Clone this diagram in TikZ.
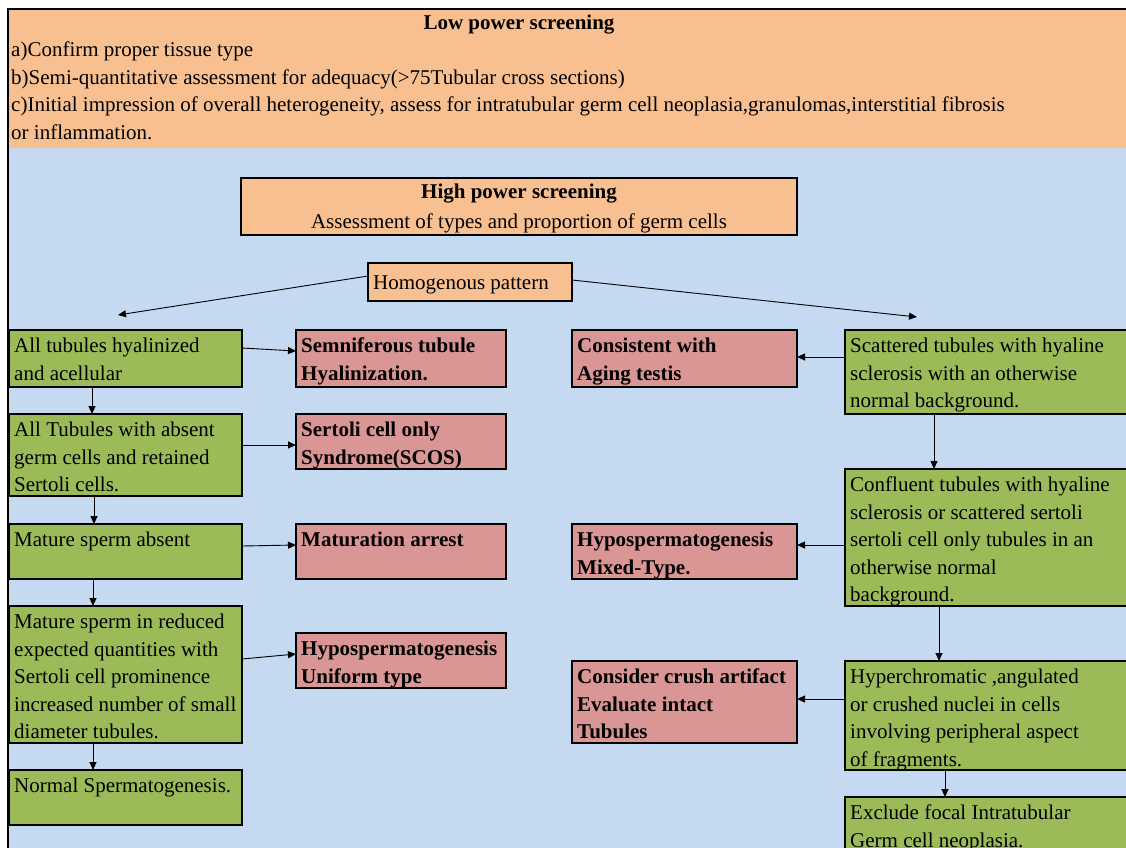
\documentclass[tikz,border=0pt]{standalone}
\usepackage{fontspec}
\setmainfont{Liberation Serif}
\usetikzlibrary{arrows.meta}
\definecolor{orng}{HTML}{F8C090}
\definecolor{blu}{HTML}{C5D9F1}
\definecolor{grn}{HTML}{9BBB59}
\definecolor{pnk}{HTML}{DA9694}
\newcommand\topstrut{\rule{0pt}{15pt}}
% #1 box style, #2 text style, #3 name, #4 x, #5 y, #6 w, #7 h, #8 text
\newcommand\mkbox[8]{%
  \node[#1, minimum width=#6pt, minimum height=#7pt] (#3) at (#4,#5) {};
  \node[#2] (#3t) at ([xshift=5pt,yshift=-7.5pt]#3.north west) {\topstrut #8};}
\begin{document}
\begin{tikzpicture}[x=1pt,y=-1pt,
  bx/.style={draw=black, line width=1.8pt, anchor=north west, inner sep=0pt, outer sep=0pt},
  gbox/.style={bx, fill=grn},
  pbox/.style={bx, fill=pnk},
  obox/.style={bx, fill=orng},
  tx/.style={anchor=north west, align=left, inner sep=0pt, font=\fontsize{21}{27.5}\selectfont},
  txb/.style={tx, font=\fontsize{21}{27.5}\selectfont\bfseries},
  single/.style={inner sep=0pt, font=\fontsize{21}{27.5}\selectfont},
  arr/.style={draw=black, line width=0.9pt, -{Triangle[length=8pt,width=7pt]}}]
\useasboundingbox (0,0) rectangle (1126,847);
\clip (0,0) rectangle (1126,847);
% background bands
\fill[orng] (8,9) rectangle (1130,148);
\fill[blu] (8,148) rectangle (1130,850);
\draw[line width=1.5pt] (8,850) -- (8,9) -- (1130,9);
% header
\node[single, anchor=base, font=\fontsize{21}{27.5}\selectfont\bfseries] (lowtitle) at (519,29.3) {Low power screening};
\node[tx] (lowlines) at (11,41.5) {\topstrut a)Confirm proper tissue type\\
b)Semi-quantitative assessment for adequacy(>75Tubular cross sections)\\
c)Initial impression of overall heterogeneity, assess for intratubular germ cell neoplasia,granulomas,interstitial fibrosis\\
or inflammation.};
% high power
\node[obox, minimum width=556pt, minimum height=57pt] (hp) at (241,178) {};
\node[single, anchor=base, font=\fontsize{21}{27.5}\selectfont\bfseries] (hpt1) at ([yshift=-20pt]hp.north) {High power screening};
\node[single, anchor=base] (hpt2) at ([yshift=-50pt]hp.north) {Assessment of types and proportion of germ cells};
% homogenous
\node[obox, minimum width=204pt, minimum height=38pt] (hm) at (368,263) {};
\node[single, anchor=base west] (hmt) at ([xshift=5pt,yshift=-26pt]hm.north west) {Homogenous pattern};
\coordinate (lend) at (118,315);
\coordinate (rend) at (917,317);
% left green column
\mkbox{gbox}{tx}{g1}{9}{330}{233}{57}{All tubules hyalinized\\and acellular}
\mkbox{gbox}{tx}{g2}{9}{414}{233}{82}{All Tubules with absent\\germ cells and retained\\Sertoli cells.}
\mkbox{gbox}{tx}{g3}{9}{524}{233}{55}{Mature sperm absent}
\mkbox{gbox}{tx}{g4}{9}{606}{233}{137}{Mature sperm in reduced\\expected quantities with\\Sertoli cell prominence\\increased number of small\\diameter tubules.}
\mkbox{gbox}{tx}{g5}{9}{770}{233}{55}{Normal Spermatogenesis.}
% left pink column
\mkbox{pbox}{txb}{p1}{296}{330}{210}{57}{Semniferous tubule\\Hyalinization.}
\mkbox{pbox}{txb}{p2}{296}{414}{210}{55}{Sertoli cell only\\Syndrome(SCOS)}
\mkbox{pbox}{txb}{p3}{296}{524}{210}{55}{Maturation arrest}
\mkbox{pbox}{txb}{p4}{296}{633}{210}{55}{Hypospermatogenesis\\Uniform type}
% right pink column
\mkbox{pbox}{txb}{r1}{572}{330}{225}{57}{Consistent with\\Aging testis}
\mkbox{pbox}{txb}{r2}{572}{524}{225}{55}{Hypospermatogenesis\\Mixed-Type.}
\mkbox{pbox}{txb}{r3}{572}{661}{225}{82}{Consider crush artifact\\Evaluate intact\\Tubules}
% right green column
\mkbox{gbox}{tx}{s1}{845}{330}{300}{84}{Scattered tubules with hyaline\\sclerosis with an otherwise\\normal background.}
\mkbox{gbox}{tx}{s2}{845}{469}{300}{137}{Confluent tubules with hyaline\\sclerosis or scattered sertoli\\sertoli cell only tubules in an\\otherwise normal\\background.}
\mkbox{gbox}{tx}{s3}{845}{661}{300}{109}{Hyperchromatic ,angulated\\or crushed nuclei in cells\\involving peripheral aspect\\of fragments.}
\mkbox{gbox}{tx}{s4}{845}{797}{300}{80}{Exclude focal Intratubular\\Germ cell neoplasia.}
% connectors
\draw[arr] ([yshift=6pt]hm.west) -- (lend);
\draw[arr] ([yshift=2pt]hm.east) -- (rend);
\draw[arr] ([yshift=10.5pt]g1.east) -- ([yshift=7.5pt]p1.west);
\draw[arr] ([yshift=10pt]g2.east) -- ([yshift=-3.5pt]p2.west);
\draw[arr] ([yshift=5.5pt]g3.east) -- ([yshift=6.5pt]p3.west);
\draw[arr] ([yshift=15.5pt]g4.east) -- ([yshift=6.5pt]p4.west);
\draw[arr] ([xshift=-33.5pt]g1.south) -- ([xshift=-33.5pt]g2.north);
\draw[arr] ([xshift=-31.5pt]g2.south) -- ([xshift=-31.5pt]g3.north);
\draw[arr] ([xshift=-32.5pt]g3.south) -- ([xshift=-32.5pt]g4.north);
\draw[arr] ([xshift=-32.5pt]g4.south) -- ([xshift=-32.5pt]g5.north);
\draw[arr] ([yshift=15pt]s1.west) -- ([yshift=1.5pt]r1.east);
\draw[arr] ([yshift=-7.5pt]s2.west) -- ([yshift=6.5pt]r2.east);
\draw[arr] ([yshift=16.5pt]s3.west) -- ([yshift=3pt]r3.east);
\draw[arr] ([xshift=-61pt]s1.south) -- ([xshift=-61pt]s2.north);
\draw[arr] ([xshift=-56pt]s2.south) -- ([xshift=-56pt]s3.north);
\draw[arr] ([xshift=-50pt]s3.south) -- ([xshift=-50pt]s4.north);
\end{tikzpicture}
\end{document}
